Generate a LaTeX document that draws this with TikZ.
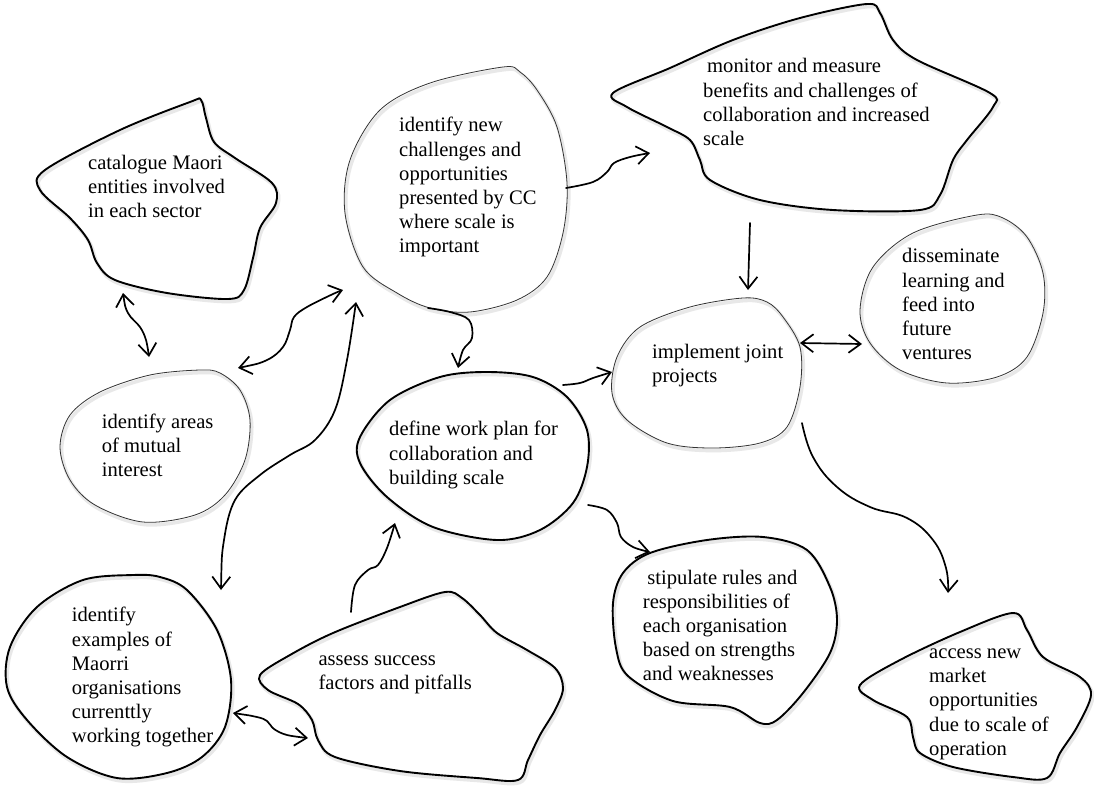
\documentclass[tikz,border=0pt]{standalone}
\usepackage{fontspec}
\setmainfont{Liberation Serif}
\usetikzlibrary{arrows.meta}
\newcommand\drawblob[2]{%
  \draw[shadowline] plot[smooth cycle,tension=0.55] coordinates {#2};
  \draw[#1] plot[smooth cycle,tension=0.55] coordinates {#2};}
\begin{document}
\begin{tikzpicture}[x=1pt,y=-1pt,
  thickblob/.style={line width=1.9pt, line join=round, draw=black},
  thinblob/.style={line width=0.8pt, draw=black!80},
  shadowline/.style={draw=black!9, line width=3.5pt, shift={(1.6,2.6)}},
  lbl/.style={anchor=north west, inner sep=0pt, align=left, font=\fontsize{20.6}{24.2}\selectfont},
  conn/.style={line width=1.7pt, line cap=round, line join=round},
  >={Straight Barb[length=12pt,width=18pt,line width=1.7pt]}]
\useasboundingbox[fill=white] (0,0) rectangle (1094,793);

% ---------- blobs ----------
\drawblob{thickblob}{(201,100) (206,118) (214,142) (235,158) (272,183) (276,203) (260,228) (253,258) (244,290) (228,299) (167,293) (115,280) (97,263) (88,240) (70,218) (40,190) (45,170) (120,130) (190,102)}
\drawblob{thinblob}{(503,67) (430,83) (380,110) (350,160) (345,213) (363,267) (397,293) (430,308) (470,312) (517,300) (547,277) (563,233) (567,183) (557,127) (537,90) (520,72)}
\drawblob{thickblob}{(867,4) (800,18) (733,40) (670,68) (613,93) (627,107) (667,127) (690,140) (700,160) (710,180) (760,200) (833,210) (920,210) (940,195) (953,160) (967,140) (993,107) (990,93) (917,60) (893,40) (880,13)}
\drawblob{thinblob}{(977,215) (913,233) (873,267) (860,310) (870,343) (900,370) (947,383) (997,377) (1027,357) (1043,313) (1043,273) (1027,237) (1003,218)}
\drawblob{thinblob}{(743,298) (690,307) (640,327) (617,357) (612,393) (627,420) (667,443) (713,448) (760,443) (787,427) (800,387) (800,347) (783,317) (767,302)}
\drawblob{thinblob}{(200,370) (150,375) (100,392) (70,415) (60,447) (70,480) (95,505) (143,522) (195,515) (225,495) (245,460) (250,420) (240,390) (220,373)}
\drawblob{thickblob}{(487,372) (440,377) (390,400) (360,437) (360,463) (387,497) (433,527) (497,540) (540,530) (573,503) (587,467) (587,430) (567,397) (533,377)}
\drawblob{thickblob}{(763,537) (707,540) (650,553) (623,573) (613,603) (616,648) (628,676) (673,701) (730,707) (760,723) (777,720) (803,693) (830,653) (837,620) (830,587) (807,550)}
\drawblob{thickblob}{(133,575) (83,580) (37,607) (10,647) (7,687) (27,720) (67,757) (117,778) (167,773) (202,757) (225,727) (231,680) (217,630) (187,590) (160,577)}
\drawblob{thickblob}{(445,592) (462,598) (480,615) (497,633) (527,650) (555,668) (563,688) (555,710) (540,735) (528,760) (518,780) (477,778) (400,771) (335,757) (318,740) (312,720) (298,704) (268,690) (260,675) (290,655) (333,633) (400,607)}
\drawblob{thickblob}{(1013,613) (1027,630) (1043,657) (1080,677) (1091,695) (1077,727) (1060,753) (1047,778) (1013,777) (953,767) (920,753) (913,737) (907,717) (873,700) (860,685) (900,660) (960,632)}

% ---------- labels ----------
\node[lbl] (cat) at (88,152) {\strut catalogue Maori\\entities involved\\in each sector};
\node[lbl] (newch) at (399,114.7) {\strut identify new\\challenges and\\opportunities\\presented by CC\\where scale is\\important};
\node[lbl] (monitor) at (703,55.7) {\strut\hspace*{4pt}monitor and measure\\benefits and challenges of\\collaboration and increased\\scale};
\node[lbl] (dissem) at (902,245.7) {\strut disseminate\\learning and\\feed into\\future\\ventures};
\node[lbl] (impl) at (652,341.3) {\strut implement joint\\projects};
\node[lbl] (areas) at (101.7,411.3) {\strut identify areas\\of mutual\\interest};
\node[lbl] (define) at (389,418.7) {\strut define work plan for\\collaboration and\\building scale};
\node[lbl] (stip) at (642.7,567) {\strut\hspace*{4.5pt}stipulate rules and\\responsibilities of\\each organisation\\based on strengths\\and weaknesses};
\node[lbl] (examples) at (71.7,604.7) {\strut identify\\examples of\\Maorri\\organisations\\currenttly\\working together};
\node[lbl] (assess) at (318.3,648) {\strut assess success\\factors and pitfalls};
\node[lbl] (access) at (929,641.3) {\strut access new\\market\\opportunities\\due to scale of\\operation};

% ---------- connector ends ----------
\coordinate (a1) at (123,293); \coordinate (a2) at (149,357);
\coordinate (b1) at (238,368); \coordinate (b2) at (343,290);
\coordinate (c1) at (221,590); \coordinate (c2) at (356,302);
\coordinate (d1) at (233,713); \coordinate (d2) at (308,738);
\coordinate (e1) at (351,612); \coordinate (e2) at (395,523);
\coordinate (f1) at (428,308); \coordinate (f2) at (458,368);
\coordinate (g1) at (566,188); \coordinate (g2) at (650,153);
\coordinate (h1) at (750,223); \coordinate (h2) at (748,290);
\coordinate (i1) at (563,385); \coordinate (i2) at (612,372);
\coordinate (j1) at (800,343); \coordinate (j2) at (862,344);
\coordinate (k1) at (588,505); \coordinate (k2) at (650,552);
\coordinate (l1) at (802,423); \coordinate (l2) at (948,593);

% ---------- connectors ----------
\draw[conn,<->] plot[smooth,tension=0.6] coordinates {(a1) (128,313) (140,327) (146,340) (a2)};
\draw[conn,<->] plot[smooth,tension=0.6] coordinates {(b1) (267,360) (283,347) (290,330) (294,317) (307,307) (333,294) (b2)};
\draw[conn,<->] plot[smooth,tension=0.6] coordinates {(c1) (224,540) (235,500) (260,475) (290,455) (315,440) (335,410) (347,360) (c2)};
\draw[conn,<->] plot[smooth,tension=0.6] coordinates {(d1) (257,717) (267,721) (274,729) (287,735) (d2)};
\draw[conn,->] plot[smooth,tension=0.6] coordinates {(e1) (355,585) (368,570) (378,565) (387,548) (e2)};
\draw[conn,->] plot[smooth,tension=0.6] coordinates {(f1) (450,312) (469,320) (472,338) (463,350) (f2)};
\draw[conn,->] plot[smooth,tension=0.6] coordinates {(g1) (593,182) (607,172) (614,163) (630,157) (g2)};
\draw[conn,->] (h1) -- (h2);
\draw[conn,->] plot[smooth,tension=0.6] coordinates {(i1) (580,383) (593,378) (i2)};
\draw[conn,<->] (j1) -- (j2);
\draw[conn,->] plot[smooth,tension=0.6] coordinates {(k1) (607,510) (617,523) (621,537) (633,547) (k2)};
\draw[conn,->] plot[smooth,tension=0.7] coordinates {(l1) (813,457) (837,487) (870,507) (907,518) (933,540) (946,568) (l2)};
\end{tikzpicture}
\end{document}
